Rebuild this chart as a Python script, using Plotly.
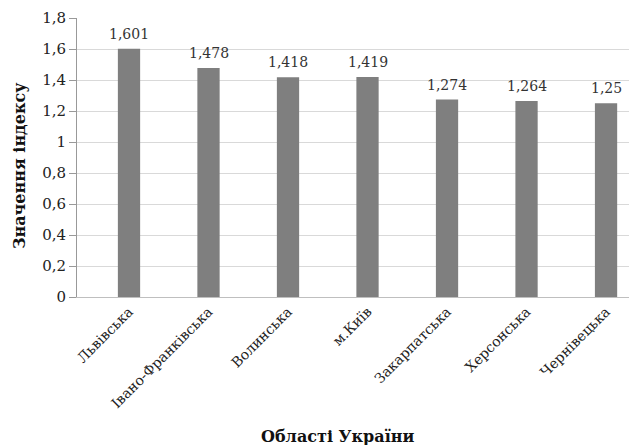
import plotly.graph_objects as go

categories = ["Львівська", "Івано-Франківська", "Волинська", "м.Київ",
              "Закарпатська", "Херсонська", "Чернівецька"]
values = [1.601, 1.478, 1.418, 1.419, 1.274, 1.264, 1.25]
value_labels = ["1,601", "1,478", "1,418", "1,419", "1,274", "1,264", "1,25"]
y_tickvals = [0, 0.2, 0.4, 0.6, 0.8, 1.0, 1.2, 1.4, 1.6, 1.8]
y_ticktext = ["0", "0,2", "0,4", "0,6", "0,8", "1", "1,2", "1,4", "1,6", "1,8"]

FONT = "DejaVu Serif"

fig = go.Figure()
fig.add_trace(go.Bar(
    x=categories, y=values,
    marker=dict(color="#7f7f7f", line=dict(width=0)),
    width=0.28,
))

# value labels above bars
annotations = []
for c, v, t in zip(categories, values, value_labels):
    annotations.append(dict(
        x=c, y=v, xref="x", yref="y", text=t, showarrow=False,
        xanchor="center", yanchor="bottom", yshift=5,
        font=dict(family=FONT, size=14, color="#333333"),
    ))

annotations += [
    dict(text="<b>Області України</b>", xref="paper", yref="paper",
         x=260 / 568, y=-139 / 279, showarrow=False,
         font=dict(family=FONT, size=16, color="#111111"),
         xanchor="center", yanchor="middle"),
    dict(text="<b>Значення індексу</b>", xref="paper", yref="paper",
         x=-58 / 568, y=131 / 279, showarrow=False,
         textangle=-90,
         font=dict(family=FONT, size=16, color="#111111"),
         xanchor="center", yanchor="middle"),
]

fig.update_layout(
    width=637, height=445,
    margin=dict(l=69, r=0, t=10, b=156, autoexpand=False),
    paper_bgcolor="white", plot_bgcolor="white",
    showlegend=False,
    font=dict(family=FONT, size=15, color="#222222"),
    xaxis=dict(
        range=[-0.654, 6.49],
        tickangle=-45,
        automargin=False,
        tickfont=dict(family=FONT, size=14, color="#222222"),
        showgrid=False,
        showline=True, linecolor="#bfbfbf", linewidth=1,
        ticks="",
    ),
    yaxis=dict(
        range=[0, 1.8],
        automargin=False,
        tickvals=y_tickvals, ticktext=y_ticktext,
        tickfont=dict(family=FONT, size=15, color="#222222"),
        showgrid=True, gridcolor="#d9d9d9", gridwidth=1,
        showline=True, linecolor="#999999", linewidth=1,
        ticks="outside", ticklen=7, tickcolor="#999999",
        zeroline=False,
    ),
    annotations=annotations,
)

fig.write_html("out.html")
